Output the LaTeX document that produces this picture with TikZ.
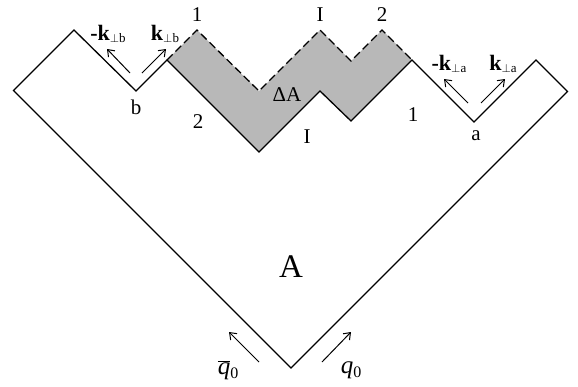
\documentclass[tikz,border=0pt]{standalone}
\usepackage{fontspec}
\setmainfont{Liberation Serif}
\usetikzlibrary{arrows.meta}
\newcommand{\kperp}[2]{\textbf{#1}\raisebox{-2.5pt}{\fontsize{13}{13}\selectfont$\perp$#2}}
\begin{document}
\begin{tikzpicture}[x=1pt,y=-1pt,
  outline/.style={line width=1.3pt, line join=miter},
  dashline/.style={line width=1.3pt, dash pattern=on 8pt off 4pt},
  shadefill/.style={fill=black!28},
  arr/.style={line width=1pt, -{Straight Barb[length=6pt,width=9pt]}},
  lbl/.style={inner sep=0pt, font=\fontsize{21}{21}\selectfont},
  klbl/.style={inner sep=0pt, font=\fontsize{22}{22}\selectfont},
  biglbl/.style={inner sep=0pt, font=\fontsize{33}{33}\selectfont},
  qlbl/.style={inner sep=0pt, font=\fontsize{25}{25}\selectfont}]
\useasboundingbox (0,0) rectangle (578,386);
% outline vertices
\coordinate (bot) at (291,368);
\coordinate (lc) at (13.5,90.5);
\coordinate (lp) at (74,30);
\coordinate (vb) at (136,91);
\coordinate (s1) at (167,60);
\coordinate (v1) at (259,152);
\coordinate (p2) at (320,91);
\coordinate (v2) at (351,121);
\coordinate (s2) at (412,60);
\coordinate (va) at (474,122);
\coordinate (rp) at (536,60);
\coordinate (rc) at (567.5,91.5);
% dashed vertices
\coordinate (d1) at (197,30);
\coordinate (d2) at (259,91);
\coordinate (d3) at (320,30);
\coordinate (d4) at (351,61);
\coordinate (d5) at (382,30);
% shaded region
\fill[shadefill] (s1) -- (d1) -- (d2) -- (d3) -- (d4) -- (d5) -- (s2) -- (v2) -- (p2) -- (v1) -- cycle;
% outline
\draw[outline] (bot) -- (lc) -- (lp) -- (vb) -- (s1) -- (v1) -- (p2) -- (v2) -- (s2) -- (va) -- (rp) -- (rc) -- cycle;
% dashed
\draw[dashline] (s1) -- (d1) -- (d2) -- (d3) -- (d4) -- (d5) -- (s2);
% arrows near b
\coordinate (b1t) at (130,73); \coordinate (b1h) at (107,49);
\coordinate (b2t) at (142,73); \coordinate (b2h) at (166,49);
\draw[arr] (b1t) -- (b1h);
\draw[arr] (b2t) -- (b2h);
% arrows near a
\coordinate (a1t) at (468,103); \coordinate (a1h) at (444,79);
\coordinate (a2t) at (481,103); \coordinate (a2h) at (505,79);
\draw[arr] (a1t) -- (a1h);
\draw[arr] (a2t) -- (a2h);
% bottom arrows
\coordinate (q1t) at (259,362); \coordinate (q1h) at (229,332);
\coordinate (q2t) at (322,362); \coordinate (q2h) at (351,332);
\draw[arr] (q1t) -- (q1h);
\draw[arr] (q2t) -- (q2h);
% labels
\node[lbl] (l1) at (197,15) {1};
\node[lbl] (lI) at (320,15) {I};
\node[lbl] (l2) at (382,15) {2};
\node[lbl] (dA) at (287,95) {ΔA};
\node[lbl] (m2) at (198,122) {2};
\node[lbl] (mI) at (307,137) {I};
\node[lbl] (m1) at (413,115) {1};
\node[lbl] (lb) at (136,107) {b};
\node[lbl] (la) at (476,136) {a};
\node[klbl] (kb1) at (108,34) {\kperp{-k}{b}};
\node[klbl] (kb2) at (165,34) {\kperp{k}{b}};
\node[klbl] (ka1) at (449,64) {\kperp{-k}{a}};
\node[klbl] (ka2) at (503,64) {\kperp{k}{a}};
\node[biglbl] (bigA) at (291,267) {A};
\node[qlbl] (qb) at (228,370) {$\overline{\mbox{\textit{q}}}$\raisebox{-4pt}{\fontsize{16}{16}\selectfont 0}};
\node[qlbl] (q) at (351,370) {\textit{q}\raisebox{-4pt}{\fontsize{16}{16}\selectfont 0}};
\end{tikzpicture}
\end{document}
